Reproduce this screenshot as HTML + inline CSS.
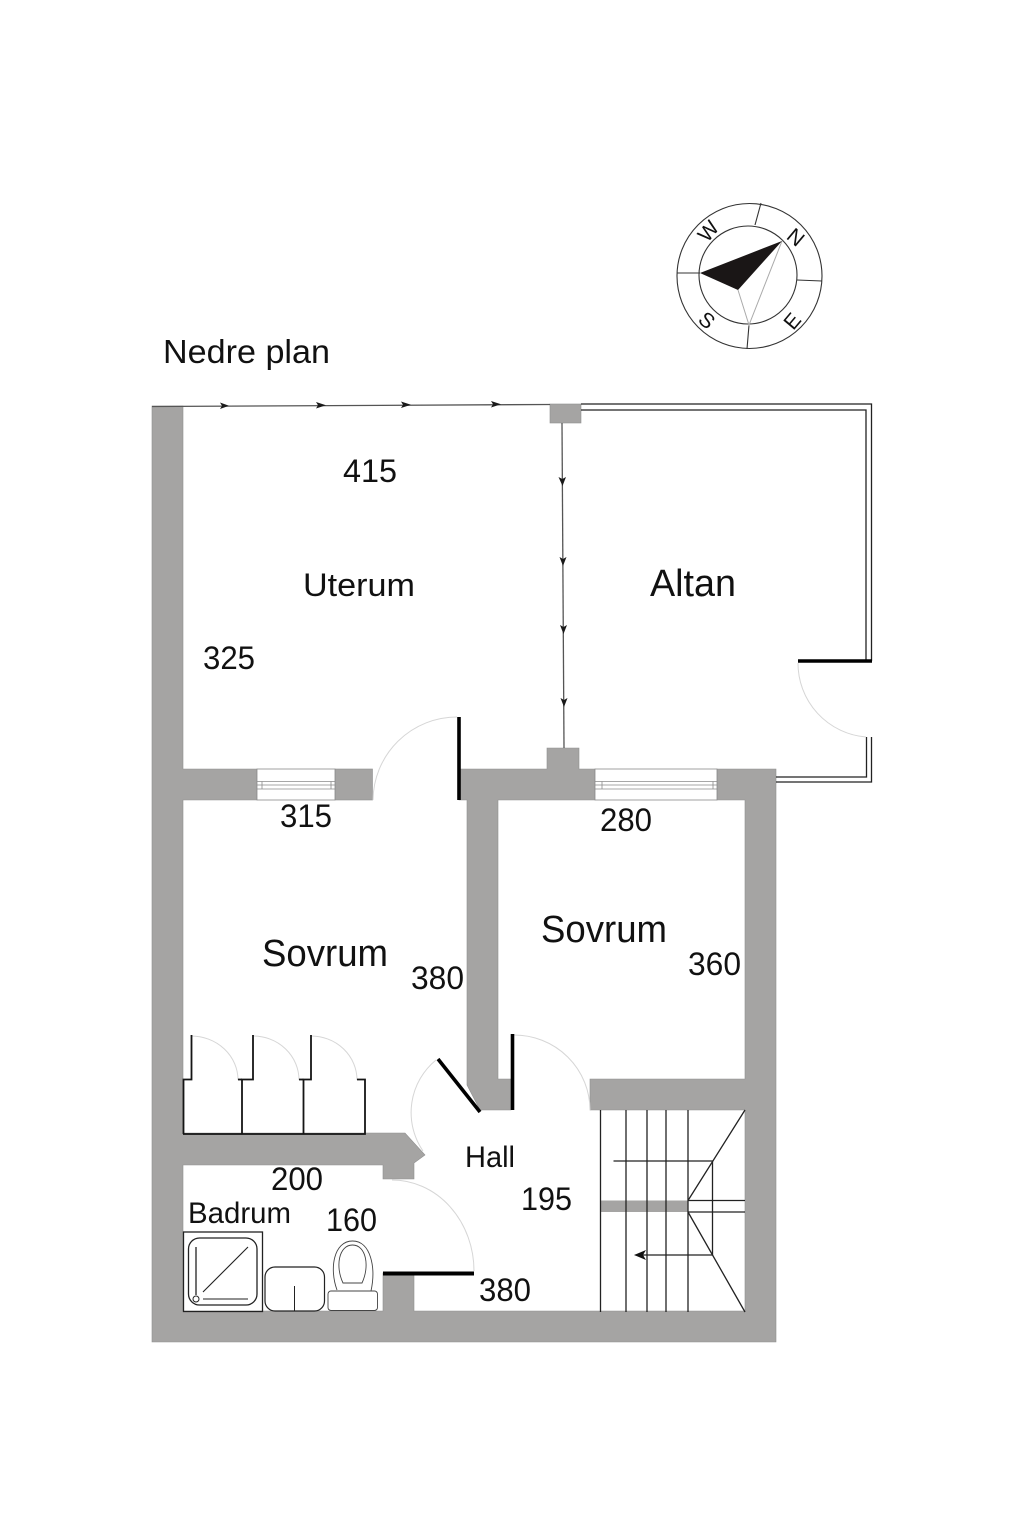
<!DOCTYPE html>
<html lang="sv">
<head>
<meta charset="utf-8">
<title>Nedre plan</title>
<style>
html,body{margin:0;padding:0;background:#fff;width:1024px;height:1536px;overflow:hidden}
svg{display:block}
text{font-family:"Liberation Sans",sans-serif;fill:#111}
</style>
</head>
<body>
<svg xmlns="http://www.w3.org/2000/svg" width="1024" height="1536" viewBox="0 0 1024 1536">
<!-- walls -->
<g fill="#a5a4a3" stroke="#8f8f8f" stroke-width="0.6">
<path d="M152 406H183V769H257V800H183V1133H405L425 1155L414 1163V1179H383V1165H183V1311H383V1273H414V1311H745V1110H590V1079H745V800H717V769H776V1342H152Z"/>
<rect x="335" y="769" width="37.5" height="31"/>
<path d="M459 769H547V748H579V769H595V800H498V1079H511V1110H480L467 1085V800H459Z"/>
<rect x="550" y="404" width="31" height="19"/>
</g>
<!-- windows -->
<g fill="#fff" stroke="#8a8a8a" stroke-width="0.8">
<rect x="257" y="769" width="78" height="31"/>
<rect x="595" y="769" width="122" height="31"/>
</g>
<g fill="none" stroke="#8a8a8a" stroke-width="0.8">
<path d="M257 781.5H335M257 785H335M257 789H335M262 781.5V789M331 781.5V789"/>
<path d="M595 781.5H717M595 785H717M595 789H717M602 781.5V789M713 781.5V789"/>
</g>
<!-- top and divider lines -->
<g stroke="#555" stroke-width="1.3" fill="none">
<path d="M152 406.5L550 404.5"/>
<path d="M562 423L564 748"/>
</g>
<g fill="#1a1a1a">
<path d="M220 402.5L229 405.8L220 409L222 405.8Z"/>
<path d="M316 402L326 405.2L316 408.5L318 405.2Z"/>
<path d="M401 401.5L411 404.8L401 408L403 404.8Z"/>
<path d="M491 401L501 404.3L491 407.5L493 404.3Z"/>
<path d="M558.5 477L562.5 486L566 477L562.3 479Z"/>
<path d="M559.5 557L563 566L566.5 557L563 559Z"/>
<path d="M560 625L563.5 634L567 625L563.5 627Z"/>
<path d="M560.5 698L564 707L567.5 698L564 700Z"/>
</g>
<!-- balcony double lines -->
<g fill="none" stroke="#222" stroke-width="1.3">
<path d="M581 404H871.5V661"/>
<path d="M581 410H866V661"/>
<path d="M871.5 737V782H776"/>
<path d="M866.5 737V777H776"/>
</g>
<!-- door swings -->
<g fill="none" stroke="#d6d6d6" stroke-width="1">
<path d="M373 800A84 84 0 0 1 457 717"/>
<path d="M798 663A74 74 0 0 0 866 737"/>
<path d="M191 1036A47 44 0 0 1 238 1080"/>
<path d="M253 1036A46 44 0 0 1 299 1080"/>
<path d="M311 1036A46 44 0 0 1 357 1080"/>
<path d="M514 1035A76 75 0 0 1 590 1110"/>
<path d="M436 1060A68 68 0 0 0 423 1151"/>
<path d="M392 1180A82 91 0 0 1 474 1271"/>
</g>
<!-- door leaves -->
<g stroke="#000" fill="none">
<path d="M459 717V800" stroke-width="3.6"/>
<path d="M798 661H872" stroke-width="3.6"/>
<path d="M512.5 1034V1110" stroke-width="3.6"/>
<path d="M438 1059L480 1112" stroke-width="3.6"/>
<path d="M383 1273.5H474" stroke-width="4"/>
</g>
<!-- closets -->
<g fill="none" stroke="#151515" stroke-width="1.8">
<path d="M183.5 1134V1079.5H191.5V1035"/>
<path d="M183 1134H365V1079.5H357"/>
<path d="M242 1134V1079.5H253V1035"/>
<path d="M238 1079.5H242"/>
<path d="M303.5 1134V1079.5H311V1035"/>
<path d="M299 1079.5H303.5"/>
</g>
<!-- stairs -->
<rect x="600" y="1200.5" width="88" height="11.5" fill="#a5a4a3"/>
<g fill="none" stroke="#222" stroke-width="1.3">
<path d="M600.5 1110V1312M626 1110V1312M647 1110V1312M666 1110V1312M688 1110V1312"/>
<path d="M745 1110L688 1200.5M688 1212L745 1312"/>
<path d="M688 1200.5H745M688 1212H745"/>
<path d="M613.5 1161H712.5V1255H640"/>
</g>
<path d="M634 1255L646 1250L643 1255L646 1260Z" fill="#111"/>
<!-- shower -->
<g fill="none" stroke="#222">
<rect x="183.5" y="1232" width="79" height="79.5" stroke-width="1.3"/>
<rect x="188.5" y="1238" width="68.5" height="67" rx="11" stroke-width="1.3"/>
<path d="M196 1247V1295" stroke-width="1.3"/>
<circle cx="196" cy="1299" r="3" stroke-width="1"/>
<path d="M203 1299H248" stroke-width="1.1"/>
<path d="M203 1292L248 1247" stroke-width="1.1"/>
<!-- basin -->
<rect x="265" y="1267" width="59.5" height="44" rx="10" stroke-width="1.2"/>
<path d="M294.5 1286V1311" stroke-width="1"/>
<!-- toilet -->
<rect x="328" y="1291" width="49.5" height="19.5" rx="3" stroke="#444" stroke-width="0.9"/>
<path d="M337 1290C329 1268 334 1241 352.5 1241C371 1241 376 1268 371 1291" stroke="#444" stroke-width="0.9"/>
<path d="M343 1283C335 1266 339 1245 352.5 1245C366 1245 370 1266 362 1283Z" stroke="#444" stroke-width="0.9"/>
</g>
<!-- compass -->
<g fill="none" stroke="#333" stroke-width="1.1">
<circle cx="749.5" cy="276" r="72.5"/>
<circle cx="748" cy="275" r="49"/>
<path d="M761 203L755 225M700 273H677M797 280L822 281M749 325L747 349"/>
</g>
<path d="M738 290L749 325L782 241" fill="none" stroke="#aaa" stroke-width="1"/>
<path d="M782 241L700 273L738 290Z" fill="#1a1616"/>
<g font-size="21" text-anchor="middle">
<text transform="translate(796,237) rotate(40)" x="0" y="7.5">N</text>
<text transform="translate(708,231) rotate(-50)" x="0" y="7.5">W</text>
<text transform="translate(707,320) rotate(40)" x="0" y="7.5">S</text>
<text transform="translate(792,321) rotate(-50)" x="0" y="7.5">E</text>
</g>
<!-- labels -->
<text x="163" y="363" font-size="33" textLength="167" lengthAdjust="spacingAndGlyphs">Nedre plan</text>
<text x="343" y="482" font-size="32" textLength="54" lengthAdjust="spacingAndGlyphs">415</text>
<text x="303" y="596" font-size="32" textLength="112" lengthAdjust="spacingAndGlyphs">Uterum</text>
<text x="650" y="596" font-size="38" textLength="86" lengthAdjust="spacingAndGlyphs">Altan</text>
<text x="203" y="669" font-size="32" textLength="52" lengthAdjust="spacingAndGlyphs">325</text>
<text x="280" y="827" font-size="32" textLength="52" lengthAdjust="spacingAndGlyphs">315</text>
<text x="600" y="831" font-size="32" textLength="52" lengthAdjust="spacingAndGlyphs">280</text>
<text x="262" y="966" font-size="38" textLength="126" lengthAdjust="spacingAndGlyphs">Sovrum</text>
<text x="541" y="942" font-size="38" textLength="126" lengthAdjust="spacingAndGlyphs">Sovrum</text>
<text x="411" y="989" font-size="32" textLength="53" lengthAdjust="spacingAndGlyphs">380</text>
<text x="688" y="975" font-size="32" textLength="53" lengthAdjust="spacingAndGlyphs">360</text>
<text x="465" y="1167" font-size="30" textLength="50" lengthAdjust="spacingAndGlyphs">Hall</text>
<text x="271" y="1190" font-size="32" textLength="52" lengthAdjust="spacingAndGlyphs">200</text>
<text x="188" y="1223" font-size="30" textLength="103" lengthAdjust="spacingAndGlyphs">Badrum</text>
<text x="326" y="1231" font-size="32" textLength="51" lengthAdjust="spacingAndGlyphs">160</text>
<text x="521" y="1210" font-size="32" textLength="51" lengthAdjust="spacingAndGlyphs">195</text>
<text x="479" y="1301" font-size="32" textLength="52" lengthAdjust="spacingAndGlyphs">380</text>
</svg>
</body>
</html>
